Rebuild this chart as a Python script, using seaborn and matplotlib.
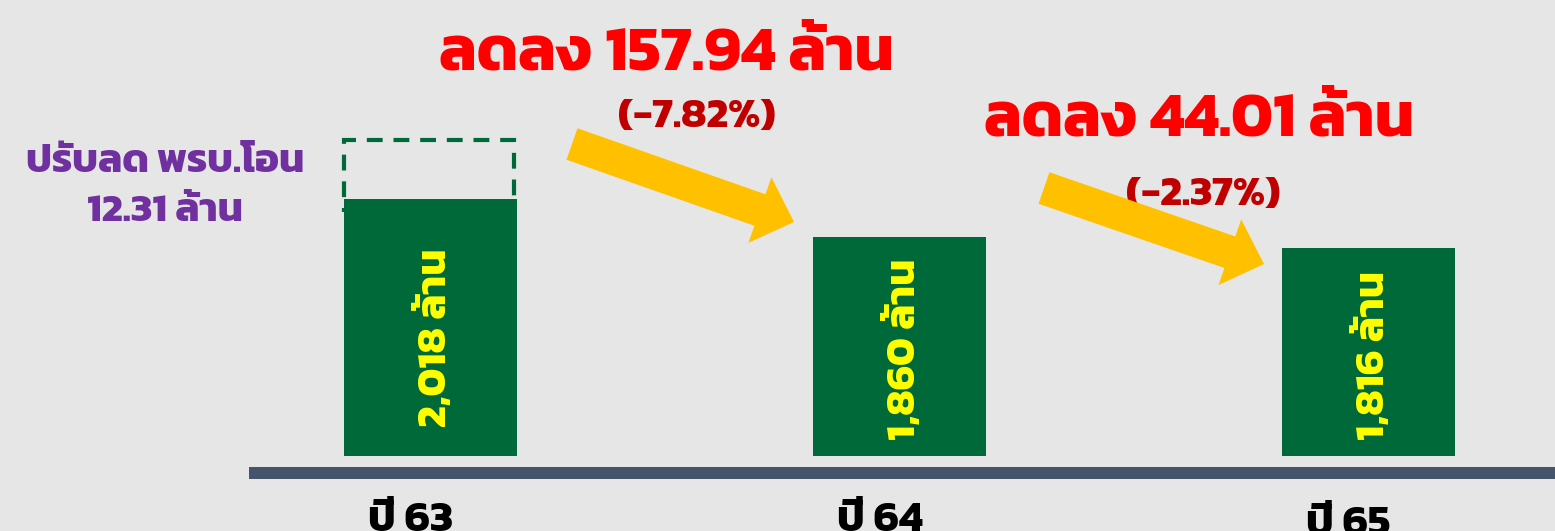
import matplotlib
matplotlib.use("Agg")
import matplotlib.pyplot as plt
from matplotlib.patches import FancyArrowPatch, Rectangle
import seaborn as sns
import pandas as pd

# ---------------- data ----------------
years = ["ปี 63", "ปี 64", "ปี 65"]
budget = [2018, 1860, 1816]            # ล้าน
change_amount = ["157.94", "44.01"]
change_pct = ["-7.82%", "-2.37%"]
adjust_note = ["ปรับลด พรบ.โอน", "12.31 ล้าน"]

# ---------------- style ----------------
BG = "#E7E6E6"
GREEN = "#00693A"
YELLOW = "#FFFF00"
RED = "#FF0000"
DARKRED = "#C00000"
PURPLE = "#7030A0"
ARROW = "#FFC000"
AXIS = "#44546A"

sns.set_theme(style="white")
plt.rcParams["font.family"] = ["Kanit", "Prompt", "Sarabun", "DejaVu Sans"]

W, H = 1555, 531
fig = plt.figure(figsize=(W / 100, H / 100), dpi=100)
fig.patch.set_facecolor(BG)

# axes: bottom of bars at pixel row 456
ax_bottom_px = 456
ax = fig.add_axes([0, (H - ax_bottom_px) / H, 1, ax_bottom_px / H])
ax.set_facecolor(BG)

df = pd.DataFrame({"year": years, "budget": budget})
sns.barplot(data=df, x="year", y="budget", color=GREEN, saturation=1,
            width=0.369, edgecolor="none", linewidth=0, ax=ax, zorder=2)

px_per_cat = 469.0
x_center0 = 430.5
ax.set_xlim(-x_center0 / px_per_cat, (W - x_center0) / px_per_cat)
base = 959
px_per_unit = 0.2426
ax.set_ylim(base, base + ax_bottom_px / px_per_unit)
ax.axis("off")

# value labels inside bars
for i, v in enumerate(budget):
    mid = (base + v) / 2
    ax.text(i + 0.01, mid - 10 / px_per_unit * (1 if i == 0 else 0.3), f"{v:,} ล้าน",
            rotation=90, ha="center", va="center", color=YELLOW,
            fontsize=30, fontweight="bold", zorder=4)

# dashed box above first bar (adjustment)
bw = 0.369
rect = Rectangle((-bw / 2, budget[0] - 13 / px_per_unit), 170 / px_per_cat,
                 72 / px_per_unit, fill=False, edgecolor=GREEN, linewidth=3,
                 linestyle=(0, (3.8, 2.6)), zorder=1, clip_on=False)
ax.add_patch(rect)

# baseline bar (category axis)
xt = ax.get_xaxis_transform()
ax.plot([(249 - x_center0) / px_per_cat, (W - x_center0) / px_per_cat],
        [-17 / ax_bottom_px] * 2, transform=xt, color=AXIS, lw=12 * 0.72,
        solid_capstyle="butt", clip_on=False, zorder=3)

# category labels
label_base_px = [531, 531, 535]
for i, lab in enumerate(years):
    ax.text(i - 20 / px_per_cat, -(label_base_px[i] - ax_bottom_px) / ax_bottom_px, lab,
            transform=xt, ha="center", va="baseline", fontsize=31,
            fontweight="bold", color="black", clip_on=False)


def fx(px):
    return px / W


def fy(py):
    return 1 - py / H


# change annotations
fig.text(fx(666), fy(70), f"ลดลง {change_amount[0]} ล้าน", ha="center",
         va="baseline", color=RED, fontsize=45, fontweight="bold", zorder=3)
fig.text(fx(697), fy(127), f"({change_pct[0]})", ha="center", va="baseline",
         color=DARKRED, fontsize=30, fontweight="bold", zorder=3)
fig.text(fx(1199), fy(135), f"ลดลง {change_amount[1]} ล้าน", ha="center",
         va="baseline", color=RED, fontsize=45, fontweight="bold", zorder=3)
fig.text(fx(1203), fy(205), f"({change_pct[1]})", ha="center", va="baseline",
         color=DARKRED, fontsize=30, fontweight="bold", zorder=3)

# adjustment note
fig.text(fx(165), fy(172), adjust_note[0], ha="center", va="baseline",
         color=PURPLE, fontsize=29, fontweight="bold")
fig.text(fx(165), fy(221), adjust_note[1], ha="center", va="baseline",
         color=PURPLE, fontsize=29, fontweight="bold")

# arrows
style = "simple,head_length=26,head_width=50,tail_width=24"
for (tx, ty), (hx, hy) in [((572, 144), (794, 222)), ((1044, 188), (1264, 264))]:
    arr = FancyArrowPatch((fx(tx), fy(ty)), (fx(hx), fy(hy)),
                          transform=fig.transFigure, arrowstyle=style,
                          mutation_scale=1, color=ARROW, shrinkA=0, shrinkB=0,
                          linewidth=0, zorder=5)
    fig.add_artist(arr)

fig.savefig("out.png", dpi=100, facecolor=BG)
